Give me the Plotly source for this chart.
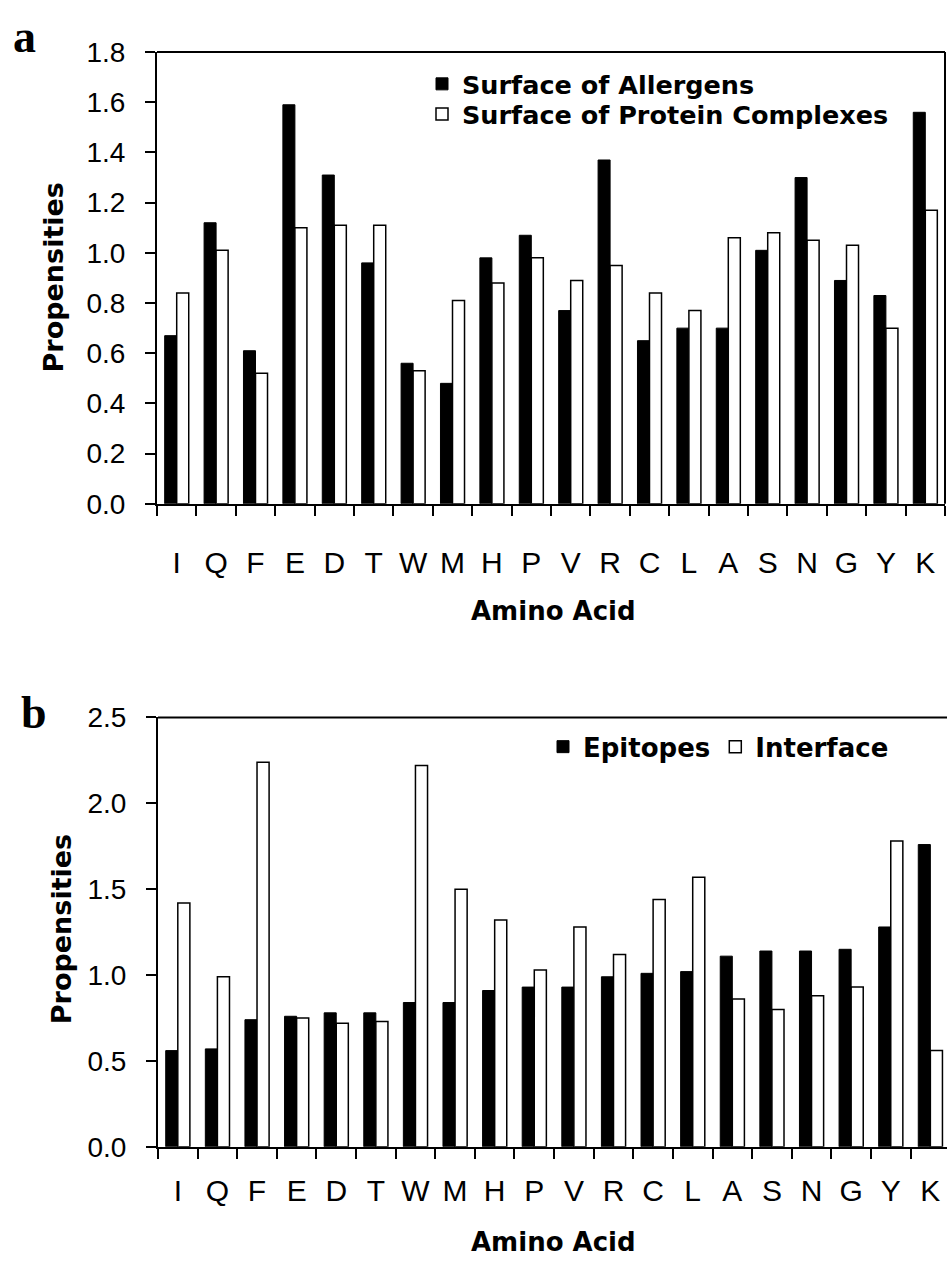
import plotly.graph_objects as go

amino_acids = ["I", "Q", "F", "E", "D", "T", "W", "M", "H", "P",
               "V", "R", "C", "L", "A", "S", "N", "G", "Y", "K"]

# Panel a
surface_allergens = [0.67, 1.12, 0.61, 1.59, 1.31, 0.96, 0.56, 0.48, 0.98, 1.07,
                     0.77, 1.37, 0.65, 0.70, 0.70, 1.01, 1.30, 0.89, 0.83, 1.56]
surface_complexes = [0.84, 1.01, 0.52, 1.10, 1.11, 1.11, 0.53, 0.81, 0.88, 0.98,
                     0.89, 0.95, 0.84, 0.77, 1.06, 1.08, 1.05, 1.03, 0.70, 1.17]

# Panel b
epitopes = [0.56, 0.57, 0.74, 0.76, 0.78, 0.78, 0.84, 0.84, 0.91, 0.93,
            0.93, 0.99, 1.01, 1.02, 1.11, 1.14, 1.14, 1.15, 1.28, 1.76]
interface = [1.42, 0.99, 2.24, 0.75, 0.72, 0.73, 2.22, 1.50, 1.32, 1.03,
             1.28, 1.12, 1.44, 1.57, 0.86, 0.80, 0.88, 0.93, 1.78, 0.56]

W, H = 947, 1274
def px(x):
    return x / W
def py(y):
    return 1 - y / H

TICK_FONT = dict(family="Liberation Sans, Arial, sans-serif", size=28, color="black")
XTICK_FONT = dict(family="Liberation Sans, Arial, sans-serif", size=30, color="black")
BOLD_FONT = dict(family="DejaVu Sans, sans-serif", size=26, color="black", weight="bold")
YT_FONT = dict(family="DejaVu Sans, sans-serif", size=27, color="black", weight="bold")
LEG_FONT_A = dict(family="DejaVu Sans, sans-serif", size=25.5, color="black", weight="bold")
LEG_FONT_B = dict(family="DejaVu Sans, sans-serif", size=26, color="black", weight="bold")

fig = go.Figure()

fig.add_trace(go.Bar(x=amino_acids, y=surface_allergens, name="Surface of Allergens",
                     marker=dict(color="black", line=dict(color="black", width=1)),
                     xaxis="x", yaxis="y", legend="legend"))
fig.add_trace(go.Bar(x=amino_acids, y=surface_complexes, name="Surface of Protein Complexes",
                     marker=dict(color="white", line=dict(color="black", width=1.5)),
                     xaxis="x", yaxis="y", legend="legend3"))
fig.add_trace(go.Bar(x=amino_acids, y=epitopes, name="Epitopes",
                     marker=dict(color="black", line=dict(color="black", width=1)),
                     xaxis="x2", yaxis="y2", legend="legend2"))
fig.add_trace(go.Bar(x=amino_acids, y=interface, name="Interface",
                     marker=dict(color="white", line=dict(color="black", width=1.5)),
                     xaxis="x2", yaxis="y2", legend="legend2"))

common_x = dict(type="category", showgrid=False, zeroline=False, showline=True,
                linecolor="black", linewidth=2, ticks="outside", tickson="boundaries",
                ticklen=10, tickwidth=1.5, tickcolor="black", tickfont=XTICK_FONT)
common_y = dict(showgrid=False, zeroline=False, showline=True, linecolor="black",
                linewidth=2, ticks="outside", ticklen=10, tickwidth=1.5,
                tickcolor="black", tickfont=TICK_FONT, tickformat=".1f",
                ticklabelstandoff=14)

fig.update_layout(
    width=W, height=H,
    margin=dict(l=0, r=0, t=0, b=0),
    paper_bgcolor="white", plot_bgcolor="white",
    barmode="group", bargap=0.39, bargroupgap=0,
    xaxis=dict(**common_x, domain=[px(157), px(945)], anchor="y", mirror=False,
               range=[-0.5, 19.5], ticklabelstandoff=31),
    yaxis=dict(**common_y, domain=[py(501), py(38)], anchor="x", range=[0, 1.8],
               dtick=0.2, mirror=False),
    xaxis2=dict(**common_x, domain=[px(158), 1], anchor="y2", mirror=False,
                range=[-0.5, 19.42], ticklabelstandoff=16),
    yaxis2=dict(**common_y, domain=[py(1160), py(720)], anchor="x2", range=[0, 2.5],
                dtick=0.5, mirror=False),
    legend=dict(x=px(422), y=py(71), xanchor="left", yanchor="middle",
                orientation="v", font=LEG_FONT_A, bgcolor="rgba(0,0,0,0)", itemwidth=30),
    legend3=dict(x=px(422), y=py(102), xanchor="left", yanchor="middle",
                 orientation="v", font=LEG_FONT_A, bgcolor="rgba(0,0,0,0)", itemwidth=30),
    legend2=dict(x=px(543), y=py(750), xanchor="left", yanchor="middle",
                 orientation="h", font=LEG_FONT_B, bgcolor="rgba(0,0,0,0)",
                 traceorder="normal", itemwidth=30),
    showlegend=True,
    shapes=[
        dict(type="line", xref="x domain", yref="y domain", x0=0, x1=1, y0=1, y1=1,
             line=dict(color="black", width=2)),
        dict(type="line", xref="x domain", yref="y domain", x0=1, x1=1, y0=0, y1=1,
             line=dict(color="black", width=2)),
        dict(type="line", xref="x2 domain", yref="y2 domain", x0=0, x1=1, y0=1, y1=1,
             line=dict(color="black", width=2)),
    ],
)

annotations = [
    dict(text="a", x=px(24), y=py(50), yanchor="bottom",
         font=dict(family="Liberation Serif, Times New Roman, serif", size=46,
                   color="black", weight="bold")),
    dict(text="b", x=px(34), y=py(743), yanchor="bottom",
         font=dict(family="Liberation Serif, Times New Roman, serif", size=46,
                   color="black", weight="bold")),
    dict(text="Propensities", x=px(53), y=py(269), textangle=-90, font=YT_FONT),
    dict(text="Propensities", x=px(61), y=py(937), textangle=-90, font=YT_FONT),
    dict(text="Amino Acid", x=px(553), y=py(611), font=BOLD_FONT),
    dict(text="Amino Acid", x=px(553), y=py(1258), font=BOLD_FONT),
]
for a in annotations:
    a.setdefault("yanchor", "middle")
    a.update(xref="paper", yref="paper", showarrow=False, xanchor="center")
fig.update_layout(annotations=annotations)

fig.write_html("out.html")
